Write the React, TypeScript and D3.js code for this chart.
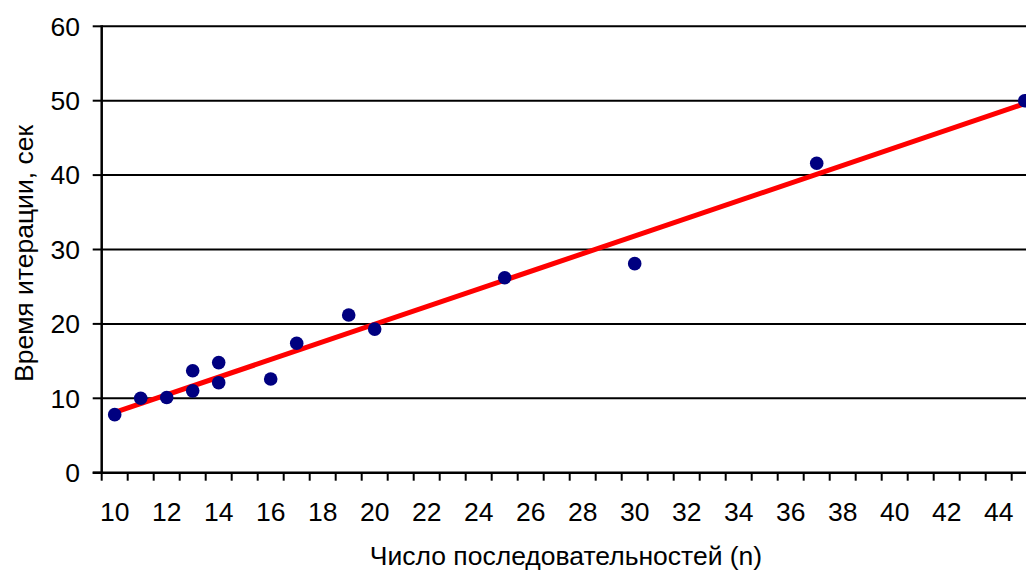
import React from 'react'
import * as d3 from 'd3'

// sequence count (n) and iteration time, s
const seqN = [10, 11, 12, 13, 13, 14, 14, 16, 17, 19, 20, 25, 30, 37, 45]
const iterTime = [7.8, 10.0, 10.1, 11.0, 13.7, 12.1, 14.8, 12.6, 17.4, 21.2, 19.3, 26.2, 28.1, 41.6, 50.0]

// linear trend, read at its two ends
const trendN = [10, 45]
const trendT = [8.1, 49.6]

const xLabels = [10, 12, 14, 16, 18, 20, 22, 24, 26, 28, 30, 32, 34, 36, 38, 40, 42, 44]
const yTicks = [0, 10, 20, 30, 40, 50, 60]

const W = 1026
const H = 572
const FONT = "Arial, 'Liberation Sans', sans-serif"
const FS = 26.5

export default function App() {
  const x = d3.scaleLinear().domain([9.5, 45.5]).range([101.7, 1037.7])
  const y = d3.scaleLinear().domain([0, 60]).range([472.7, 26.3])

  // tick marks sit between categories
  const xTickMarks = d3.range(9.5, 46, 1)

  const line = d3.line<number>()
    .x((_, i) => x(trendN[i]))
    .y(d => y(d))

  const x0 = x.range()[0]
  const x1 = x.range()[1]

  return (
    <svg width={W} height={H} style={{ position: 'absolute', left: 0, top: 0, overflow: 'hidden', background: '#fff' }}
      fontFamily={FONT}>
      {/* gridlines */}
      {yTicks.filter(t => t > 0).map(t => (
        <line key={'g' + t} x1={x0} x2={x1} y1={y(t)} y2={y(t)} stroke="#000" strokeWidth={2} />
      ))}

      {/* y axis */}
      <line x1={x0} x2={x0} y1={y(60) - 1} y2={y(0) + 1} stroke="#000" strokeWidth={2.5} />
      {yTicks.map(t => (
        <g key={'y' + t}>
          <line x1={x0 - 9} x2={x0} y1={y(t)} y2={y(t)} stroke="#000" strokeWidth={2} />
          <text x={80} y={y(t)} dy="0.35em" textAnchor="end" fontSize={FS} fill="#000">{t}</text>
        </g>
      ))}

      {/* x axis */}
      <line x1={x0 - 9} x2={x1} y1={y(0)} y2={y(0)} stroke="#000" strokeWidth={2.5} />
      {xTickMarks.map(t => (
        <line key={'xt' + t} x1={x(t)} x2={x(t)} y1={y(0)} y2={y(0) + 8} stroke="#000" strokeWidth={2} />
      ))}
      {xLabels.map(t => (
        <text key={'xl' + t} x={x(t)} y={520.5} textAnchor="middle" fontSize={FS} fill="#000">{t}</text>
      ))}

      {/* trend */}
      <path d={line(trendT) || ''} fill="none" stroke="#ff0000" strokeWidth={5} />

      {/* points */}
      {seqN.map((n, i) => (
        <circle key={'p' + i} cx={x(n)} cy={y(iterTime[i])} r={6.8} fill="#000080" />
      ))}

      {/* axis titles */}
      <text x={566} y={565} textAnchor="middle" fontSize={FS} fill="#000">Число последовательностей (n)</text>
      <text transform={`translate(33, 253.5) rotate(-90)`} textAnchor="middle" fontSize={FS} fill="#000">Время итерации, сек</text>
    </svg>
  )
}
